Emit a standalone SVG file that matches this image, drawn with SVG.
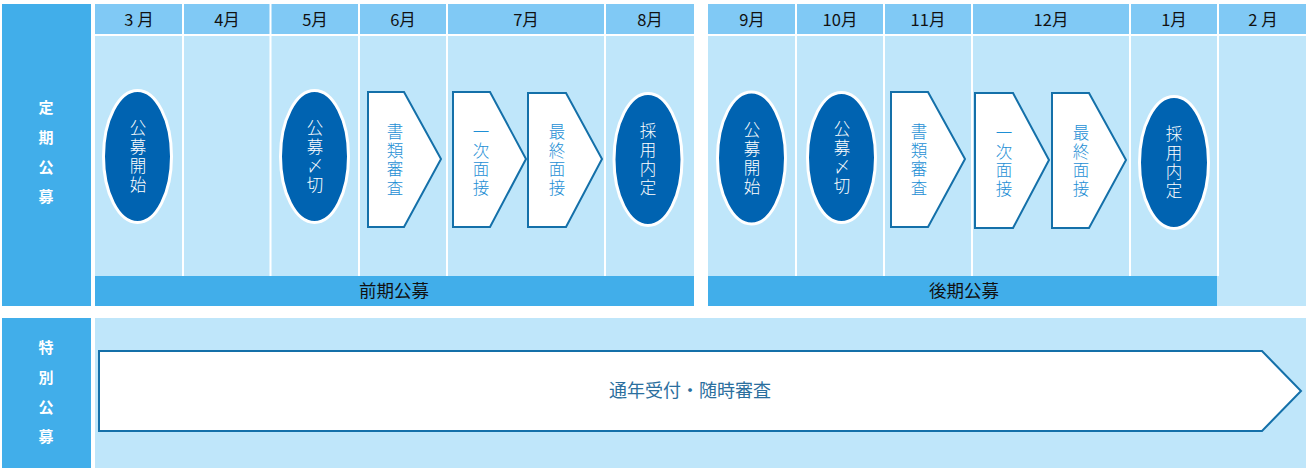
<svg xmlns="http://www.w3.org/2000/svg" width="1306" height="470" viewBox="0 0 1306 470">
<style>
text{font-family:"Noto Sans CJK JP","Noto Sans",sans-serif;}
.lab{fill:#41aeea;}
.hdr{fill:#80c9f5;}
.body{fill:#bfe6fa;}
.bar{fill:#41aeea;}
.sep{stroke:#ffffff;stroke-width:2;}
.ht{font-size:16.5px;fill:#111;text-anchor:middle;}
.lt{font-size:15px;fill:#fff;font-weight:bold;text-anchor:middle;}
.bt{font-size:17.5px;fill:#111;text-anchor:middle;}
.ov{fill:#0063b1;stroke:#fff;stroke-width:3;}
.ot{font-size:16.5px;fill:#fff;font-weight:300;text-anchor:middle;}
.pg{fill:#fff;stroke:#1470a9;stroke-width:2;}
.pt{font-size:16.5px;fill:#1e8fd5;font-weight:300;text-anchor:middle;}
.ar{fill:#fff;stroke:#1470a9;stroke-width:2;}
.at{font-size:18px;fill:#2b6f9e;text-anchor:middle;}
</style>
<rect width="1306" height="470" fill="#fff"/>
<g id="label-teiki">
<rect class="lab" x="2" y="4" width="89" height="302"/>
<text class="lt"><tspan x="46" y="113">定</tspan><tspan x="46" y="143">期</tspan><tspan x="46" y="173">公</tspan><tspan x="46" y="202">募</tspan></text>
</g>
<g id="label-tokubetsu">
<rect class="lab" x="2" y="318" width="89" height="150"/>
<text class="lt"><tspan x="46" y="353">特</tspan><tspan x="46" y="383">別</tspan><tspan x="46" y="413">公</tspan><tspan x="46" y="442">募</tspan></text>
</g>
<g id="block-zenki">
<rect class="body" x="95" y="4" width="599" height="302"/>
<rect class="hdr" x="95" y="4" width="599" height="30"/>
<line class="sep" x1="95" y1="35" x2="694" y2="35"/>
<line class="sep" x1="183" y1="4" x2="183" y2="276"/>
<line class="sep" x1="270.5" y1="4" x2="270.5" y2="276"/>
<line class="sep" x1="359" y1="4" x2="359" y2="276"/>
<line class="sep" x1="447" y1="4" x2="447" y2="276"/>
<line class="sep" x1="605" y1="4" x2="605" y2="276"/>
<rect class="bar" x="95" y="276" width="599" height="30"/>
<text class="bt" x="394" y="297">前期公募</text>
<text class="ht" x="139" y="26">3 月</text>
<text class="ht" x="227" y="26">4月</text>
<text class="ht" x="315" y="26">5月</text>
<text class="ht" x="403" y="26">6月</text>
<text class="ht" x="526" y="26">7月</text>
<text class="ht" x="650" y="26">8月</text>
</g>
<g id="block-kouki">
<rect class="body" x="708" y="4" width="598" height="302"/>
<rect class="hdr" x="708" y="4" width="598" height="30"/>
<line class="sep" x1="708" y1="35" x2="1306" y2="35"/>
<line class="sep" x1="796" y1="4" x2="796" y2="276"/>
<line class="sep" x1="884" y1="4" x2="884" y2="276"/>
<line class="sep" x1="972" y1="4" x2="972" y2="276"/>
<line class="sep" x1="1130" y1="4" x2="1130" y2="276"/>
<line class="sep" x1="1218" y1="4" x2="1218" y2="276"/>
<rect class="bar" x="708" y="276" width="509" height="30"/>
<text class="bt" x="964" y="297">後期公募</text>
<text class="ht" x="752" y="26">9月</text>
<text class="ht" x="840" y="26">10月</text>
<text class="ht" x="928" y="26">11月</text>
<text class="ht" x="1051" y="26">12月</text>
<text class="ht" x="1174" y="26">1月</text>
<text class="ht" x="1263" y="26">2 月</text>
</g>
<g id="node-kobo-kaishi-1">
<ellipse class="ov" cx="137.5" cy="156.5" rx="34" ry="66"/>
<text class="ot"><tspan x="138" y="134">公</tspan><tspan x="138" y="153">募</tspan><tspan x="138" y="172">開</tspan><tspan x="138" y="191">始</tspan></text>
</g>
<g id="node-kobo-shime-1">
<ellipse class="ov" cx="314.5" cy="156.5" rx="34" ry="66"/>
<text class="ot"><tspan x="315" y="134">公</tspan><tspan x="315" y="153">募</tspan><tspan x="315" y="172">〆</tspan><tspan x="315" y="191">切</tspan></text>
</g>
<g id="node-shorui-1">
<path class="pg" d="M368,92 H404 L441,159 L404,227 H368 Z"/>
<text class="pt"><tspan x="395" y="138">書</tspan><tspan x="395" y="156.5">類</tspan><tspan x="395" y="175">審</tspan><tspan x="395" y="193.5">査</tspan></text>
</g>
<g id="node-ichiji-1">
<path class="pg" d="M453,92 H490 L526,159 L490,227 H453 Z"/>
<text class="pt"><tspan x="481" y="138">一</tspan><tspan x="481" y="156.5">次</tspan><tspan x="481" y="175">面</tspan><tspan x="481" y="193.5">接</tspan></text>
</g>
<g id="node-saishu-1">
<path class="pg" d="M528,93 H566 L602,159 L566,227 H528 Z"/>
<text class="pt"><tspan x="557" y="138">最</tspan><tspan x="557" y="156.5">終</tspan><tspan x="557" y="175">面</tspan><tspan x="557" y="193.5">接</tspan></text>
</g>
<g id="node-naitei-1">
<ellipse class="ov" cx="648" cy="159.5" rx="34" ry="66"/>
<text class="ot"><tspan x="648" y="137">採</tspan><tspan x="648" y="156">用</tspan><tspan x="648" y="175">内</tspan><tspan x="648" y="194">定</tspan></text>
</g>
<g id="node-kobo-kaishi-2">
<ellipse class="ov" cx="751.5" cy="158" rx="34" ry="66"/>
<text class="ot"><tspan x="752" y="136">公</tspan><tspan x="752" y="155">募</tspan><tspan x="752" y="174">開</tspan><tspan x="752" y="193">始</tspan></text>
</g>
<g id="node-kobo-shime-2">
<ellipse class="ov" cx="841.5" cy="157.5" rx="34" ry="65"/>
<text class="ot"><tspan x="842" y="135">公</tspan><tspan x="842" y="154">募</tspan><tspan x="842" y="173">〆</tspan><tspan x="842" y="192">切</tspan></text>
</g>
<g id="node-shorui-2">
<path class="pg" d="M891,92 H928 L965,159 L928,227 H891 Z"/>
<text class="pt"><tspan x="919" y="138">書</tspan><tspan x="919" y="156.5">類</tspan><tspan x="919" y="175">審</tspan><tspan x="919" y="193.5">査</tspan></text>
</g>
<g id="node-ichiji-2">
<path class="pg" d="M975,93 H1013 L1049,160 L1013,228 H975 Z"/>
<text class="pt"><tspan x="1004" y="139">一</tspan><tspan x="1004" y="157.5">次</tspan><tspan x="1004" y="176">面</tspan><tspan x="1004" y="194.5">接</tspan></text>
</g>
<g id="node-saishu-2">
<path class="pg" d="M1052,93 H1089 L1126,160 L1089,228 H1052 Z"/>
<text class="pt"><tspan x="1081" y="139">最</tspan><tspan x="1081" y="157.5">終</tspan><tspan x="1081" y="176">面</tspan><tspan x="1081" y="194.5">接</tspan></text>
</g>
<g id="node-naitei-2">
<ellipse class="ov" cx="1174" cy="162.5" rx="34.5" ry="66"/>
<text class="ot"><tspan x="1174" y="140">採</tspan><tspan x="1174" y="159">用</tspan><tspan x="1174" y="178">内</tspan><tspan x="1174" y="197">定</tspan></text>
</g>
<g id="block-tokubetsu">
<rect class="body" x="95" y="318" width="1211" height="150"/>
</g>
<g id="node-tsunen">
<path class="ar" d="M99,351 H1262 L1301,391 L1262,431 H99 Z"/>
<text class="at" x="690" y="397">通年受付・随時審査</text>
</g>
<g id="connectors"></g>
</svg>
